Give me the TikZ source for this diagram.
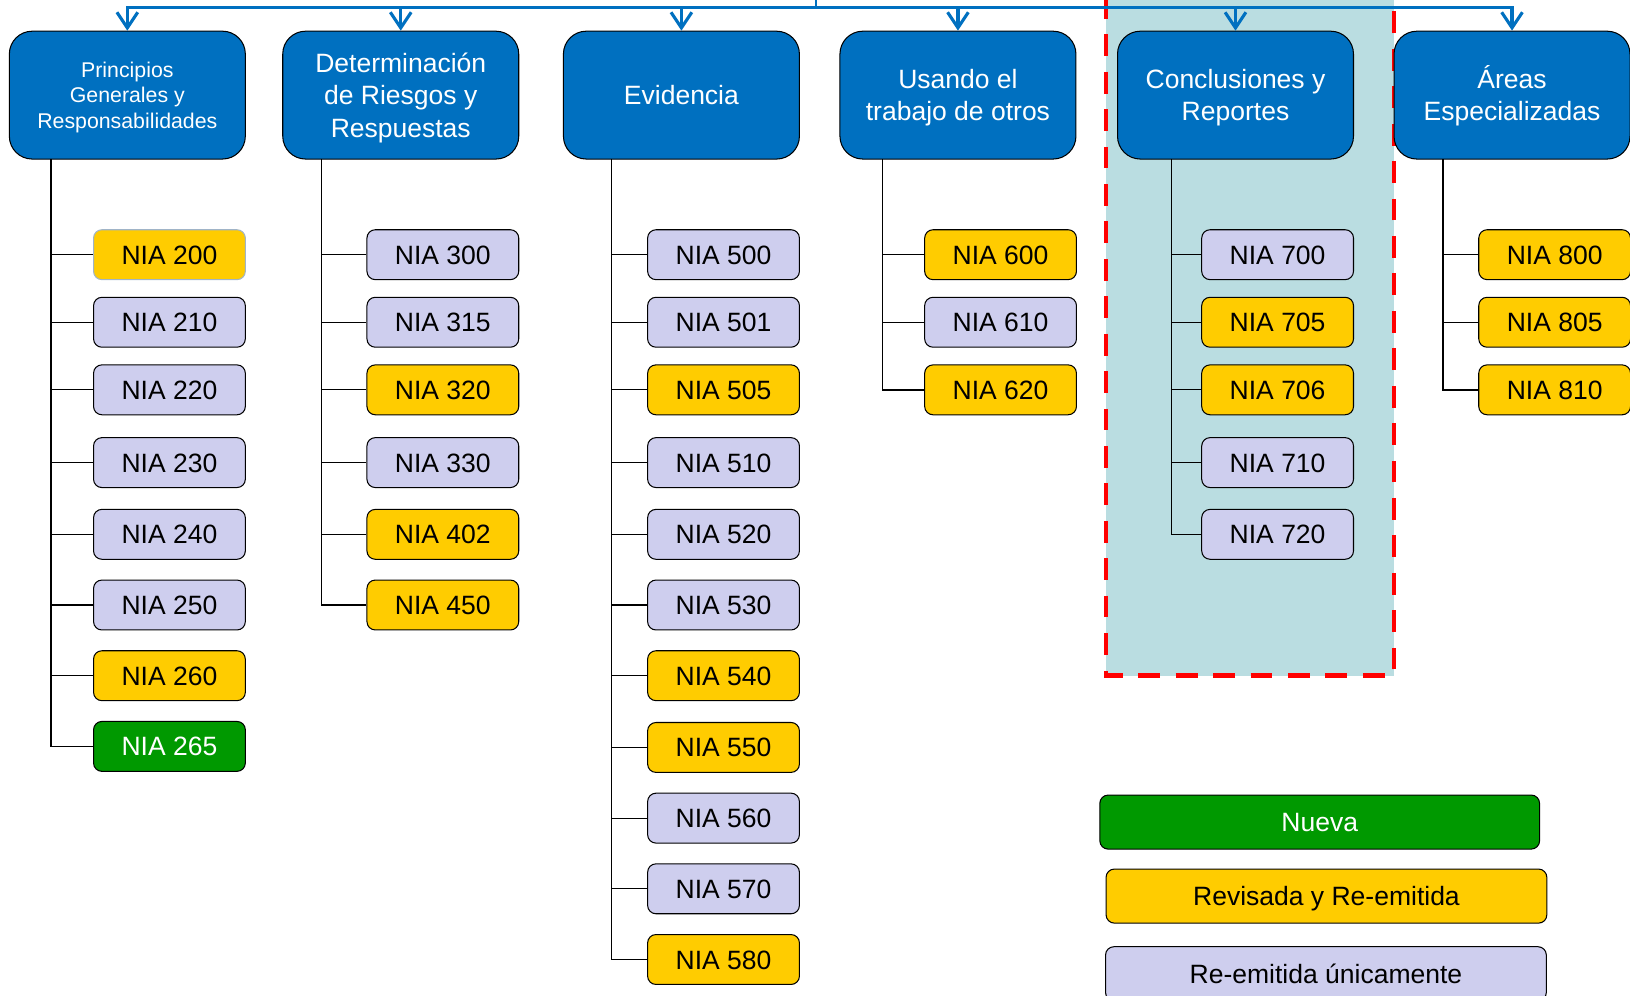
\documentclass[tikz,border=0pt]{standalone}
\usepackage{fontspec}
\setmainfont{Liberation Sans}
\usetikzlibrary{arrows.meta}
\definecolor{hdrblue}{RGB}{0,112,192}
\definecolor{revyellow}{RGB}{255,204,0}
\definecolor{reisslav}{RGB}{206,206,238}
\definecolor{newgreen}{RGB}{0,153,0}
\definecolor{focusfill}{RGB}{186,221,225}
\definecolor{softedge}{RGB}{160,180,200}

\begin{document}
\begin{tikzpicture}[x=1pt,y=-1pt,
  header/.style={draw=black,line width=1pt,fill=hdrblue,rounded corners=22pt,
    minimum width=227pt,minimum height=123pt,inner sep=0pt,text=white,align=center,
    text depth=-2.4pt,font=\fontsize{25.5}{31}\selectfont},
  smallhdr/.style={font=\fontsize{20.5}{24.5}\selectfont},
  nia/.style={draw=black,line width=1pt,rounded corners=8pt,minimum width=146pt,
    minimum height=48pt,inner sep=0pt,text height=18.3pt,text depth=-3pt,
    font=\fontsize{25.5}{30}\selectfont},
  lav/.style={nia,fill=reisslav},
  yel/.style={nia,fill=revyellow},
  grn/.style={nia,fill=newgreen,text=white},
  legend/.style={draw=black,line width=1pt,rounded corners=8pt,minimum width=424pt,
    minimum height=52pt,inner sep=0pt,text height=18.3pt,text depth=-3.6pt,
    font=\fontsize{25.5}{30}\selectfont},
  trunk/.style={draw=black,line width=1.3pt},
  branch/.style={draw=black,line width=1.1pt},
  bus/.style={draw=hdrblue,line width=3pt},
  busarrow/.style={bus,-{Straight Barb[length=15pt,width=20pt,line width=3pt]}},
  focus/.style={fill=focusfill,draw=red,line width=4.4pt,dash pattern=on 21pt off 15pt}
]
\useasboundingbox (0,0) rectangle (1568,958);

% highlighted column: Conclusiones y Reportes
\path[focus] (1064,-3) rectangle (1341,650);

% header boxes
\node[header,smallhdr] (h1) at (122.5,91.5) {Principios\\Generales y\\Responsabilidades};
\node[header] (h2) at (385.5,91.5) {Determinación\\de Riesgos y\\Respuestas};
\node[header] (h3) at (655.5,91.5) {Evidencia};
\node[header] (h4) at (921.5,91.5) {Usando el\\trabajo de otros};
\node[header] (h5) at (1188.5,91.5) {Conclusiones y\\Reportes};
\node[header,text height=49.6pt] (h6) at (1454.5,91.5) {Áreas\\Especializadas};

% distribution bus with arrows down to each header
\coordinate (src) at (785,-10);
\coordinate (hub) at (785,7);
\draw[bus,line width=2pt] (src) -- (hub);
\foreach \h in {h1,h2,h3,h4,h5,h6}
  \draw[busarrow] (hub) -| (\h.north);

% trunk tops
\coordinate (t1) at (49,153);
\coordinate (t2) at (309,153);
\coordinate (t3) at (588,153);
\coordinate (t4) at (849,153);
\coordinate (t5) at (1127,153);
\coordinate (t6) at (1388,153);

% column 1
\node[yel,draw=softedge] (n200) at (163,245) {NIA 200};
\node[lav] (n210) at (163,310) {NIA 210};
\node[lav] (n220) at (163,375) {NIA 220};
\node[lav] (n230) at (163,445) {NIA 230};
\node[lav] (n240) at (163,514) {NIA 240};
\node[lav] (n250) at (163,582) {NIA 250};
\node[yel] (n260) at (163,650) {NIA 260};
\node[grn] (n265) at (163,718) {NIA 265};
\draw[trunk] (t1) |- (n265.west);
\foreach \n in {n200,n210,n220,n230,n240,n250,n260}
  \draw[branch] (\n.west) -- (\n.west -| t1);

% column 2
\node[lav] (n300) at (426,245) {NIA 300};
\node[lav] (n315) at (426,310) {NIA 315};
\node[yel] (n320) at (426,375) {NIA 320};
\node[lav] (n330) at (426,445) {NIA 330};
\node[yel] (n402) at (426,514) {NIA 402};
\node[yel] (n450) at (426,582) {NIA 450};
\draw[trunk] (t2) |- (n450.west);
\foreach \n in {n300,n315,n320,n330,n402}
  \draw[branch] (\n.west) -- (\n.west -| t2);

% column 3
\node[lav] (n500) at (696,245) {NIA 500};
\node[lav] (n501) at (696,310) {NIA 501};
\node[yel] (n505) at (696,375) {NIA 505};
\node[lav] (n510) at (696,445) {NIA 510};
\node[lav] (n520) at (696,514) {NIA 520};
\node[lav] (n530) at (696,582) {NIA 530};
\node[yel] (n540) at (696,650) {NIA 540};
\node[yel] (n550) at (696,719) {NIA 550};
\node[lav] (n560) at (696,787) {NIA 560};
\node[lav] (n570) at (696,855) {NIA 570};
\node[yel] (n580) at (696,923) {NIA 580};
\draw[trunk] (t3) |- (n580.west);
\foreach \n in {n500,n501,n505,n510,n520,n530,n540,n550,n560,n570}
  \draw[branch] (\n.west) -- (\n.west -| t3);

% column 4
\node[yel] (n600) at (962.5,245) {NIA 600};
\node[lav] (n610) at (962.5,310) {NIA 610};
\node[yel] (n620) at (962.5,375) {NIA 620};
\draw[trunk] (t4) |- (n620.west);
\foreach \n in {n600,n610}
  \draw[branch] (\n.west) -- (\n.west -| t4);

% column 5
\node[lav] (n700) at (1229,245) {NIA 700};
\node[yel] (n705) at (1229,310) {NIA 705};
\node[yel] (n706) at (1229,375) {NIA 706};
\node[lav] (n710) at (1229,445) {NIA 710};
\node[lav] (n720) at (1229,514) {NIA 720};
\draw[trunk] (t5) |- (n720.west);
\foreach \n in {n700,n705,n706,n710}
  \draw[branch] (\n.west) -- (\n.west -| t5);

% column 6
\node[yel] (n800) at (1495.5,245) {NIA 800};
\node[yel] (n805) at (1495.5,310) {NIA 805};
\node[yel] (n810) at (1495.5,375) {NIA 810};
\draw[trunk] (t6) |- (n810.west);
\foreach \n in {n800,n805}
  \draw[branch] (\n.west) -- (\n.west -| t6);

% legend
\node[legend,fill=newgreen,text=white,minimum width=423pt] (lnew) at (1269.5,790.8) {Nueva};
\node[legend,fill=revyellow] (lrev) at (1276,862) {Revisada y Re-emitida};
\node[legend,fill=reisslav] (lre) at (1275.5,936.7) {Re-emitida únicamente};
\end{tikzpicture}
\end{document}
